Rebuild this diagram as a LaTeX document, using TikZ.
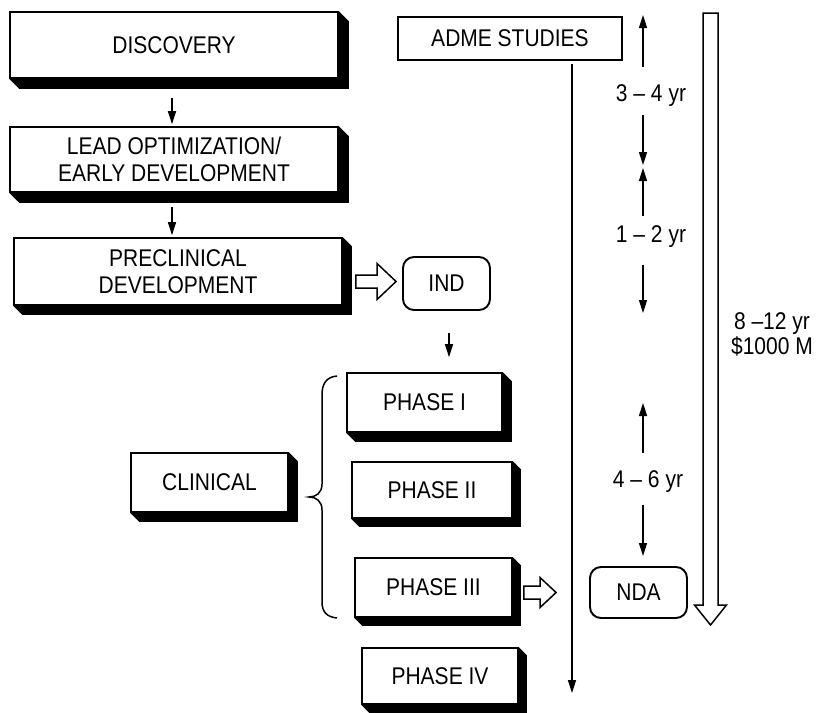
\documentclass[tikz,border=0pt]{standalone}
\usepackage{fontspec}
\setmainfont{Liberation Sans}
\usepackage{graphicx}
\usetikzlibrary{arrows.meta,calc,backgrounds}
\newcommand{\tl}[1]{\scalebox{1}[1.15]{#1}}
\newcommand{\hollowR}[5]{\draw[hollow] let \p1=(#1), \p2=(#2) in
  (\x1,\y1+#3) -- (\x2-#5,\y1+#3) -- (\x2-#5,\y1+#4) -- (\x2,\y1) --
  (\x2-#5,\y1-#4) -- (\x2-#5,\y1-#3) -- (\x1,\y1-#3) -- cycle;}
\begin{document}
\begin{tikzpicture}[x=1pt,y=-1pt,
  txt/.style={font=\fontsize{21}{26.5}\selectfont, align=center, inner sep=0pt},
  shbox/.style={txt,draw,fill=white,line width=1.6pt},
  rbox/.style={txt,draw,fill=white,line width=1.9pt,rounded corners=11pt},
  arr/.style={line width=1.5pt,-{Triangle[length=13pt,width=8pt]}},
  hollow/.style={draw,fill=white,line width=1.5pt,line join=miter},
]
\useasboundingbox (0,0) rectangle (819,712);

% main boxes
\node[shbox,minimum width=328pt,minimum height=66pt] (disc) at (174,45) {\tl{DISCOVERY}};
\node[shbox,minimum width=328pt,minimum height=65pt] (lead) at (174,159.5)
  {\tl{LEAD OPTIMIZATION/}\\\tl{EARLY DEVELOPMENT}};
\node[shbox,minimum width=328pt,minimum height=67pt] (pre) at (178,271.5)
  {\tl{PRECLINICAL}\\\tl{DEVELOPMENT}};
\node[rbox,minimum width=87pt,minimum height=53pt] (ind) at (446.5,283.5) {\tl{IND}};
\node[shbox,minimum width=155pt,minimum height=59pt] (ph1) at (424.5,402.5) {\tl{PHASE I}};
\node[shbox,minimum width=160pt,minimum height=56pt] (ph2) at (432,490) {\tl{PHASE II}};
\node[shbox,minimum width=157pt,minimum height=59pt] (ph3) at (433.5,587.5) {\tl{PHASE III}};
\node[shbox,minimum width=156pt,minimum height=56pt] (ph4) at (440,676) {\tl{PHASE IV}};
\node[shbox,minimum width=157pt,minimum height=59pt] (clin) at (209.5,482.5) {\tl{CLINICAL}};
\node[shbox,line width=2pt,minimum width=224pt,minimum height=43pt] (adme) at (510,38.5) {\tl{ADME STUDIES}};
\node[rbox,minimum width=97pt,minimum height=51pt] (nda) at (638.5,592.5) {\tl{NDA}};

% shadows
\begin{scope}[on background layer]
\foreach \n/\d in {disc/10,lead/10,pre/9,ph1/9,ph2/8,ph3/8,ph4/8,clin/9}{
  \fill (\n.south west) -- ($(\n.south west)+(\d,\d)$) -- ($(\n.south east)+(\d,\d)$)
    -- ($(\n.north east)+(\d,\d)$) -- (\n.north east) -- (\n.south east) -- cycle;
}
\end{scope}

% flow arrows
\draw[arr] ($(disc.south)+(-2,19)$) -- ($(lead.north)+(-2,-2)$);
\draw[arr] ($(lead.south)+(-2,14)$) -- ($(pre.north)+(-6,-2)$);
\draw[arr] ($(ind.south)+(2.5,22)$) -- ($(ph1.north -| ind.south)+(2.5,-15)$);

% hollow arrows
\coordinate (h1a) at ($(pre.east |- ind.west)+(13,-2)$);
\coordinate (h1b) at ($(ind.west)+(-6,-2)$);
\hollowR{h1a}{h1b}{6.5pt}{18pt}{19pt}
\coordinate (h2a) at ($(ph3.east |- nda.west)+(11,0)$);
\coordinate (h2b) at ($(nda.west)+(-33,0)$);
\hollowR{h2a}{h2b}{6.5pt}{15pt}{16pt}

% ADME line
\coordinate (admeend) at (572,693);
\draw[arr] ($(admeend |- adme.south)+(0,3)$) -- (admeend);

% brace
\draw[line width=1.5pt] (337,376) .. controls (326,377) and (322,384) .. (322,395)
  -- (322,484) .. controls (322,493) and (316,497) .. (309,497)
  .. controls (316,497) and (322,501) .. (322,510)
  -- (322,602) .. controls (322,612) and (327,617) .. (337,618);

% durations
\node[txt] (t34) at (651,96) {\tl{3 -- 4 yr}};
\node[txt] (t12) at (651,237) {\tl{1 -- 2 yr}};
\node[txt] (t46) at (648,482) {\tl{4 -- 6 yr}};
\coordinate (d1) at (643,15);  \coordinate (d1t) at (643,67);
\coordinate (d2) at (643,165); \coordinate (d2t) at (643,115);
\coordinate (d3) at (643,168); \coordinate (d3t) at (643,216);
\coordinate (d4) at (643,313); \coordinate (d4t) at (643,265);
\coordinate (d5) at (643,403); \coordinate (d5t) at (643,453);
\coordinate (d6) at (643,556); \coordinate (d6t) at (643,505);
\foreach \i in {1,...,6}{\draw[arr] (d\i t) -- (d\i);}

% total
\draw[hollow] (703,13) -- (718,13) -- (718,605) -- (726.5,605) -- (710.5,625)
  -- (694.5,605) -- (703,605) -- cycle;
\node[txt,font=\fontsize{21}{25}\selectfont] (tot) at (772,334) {\tl{8 --12 yr}\\\tl{\$1000 M}};
\end{tikzpicture}
\end{document}
